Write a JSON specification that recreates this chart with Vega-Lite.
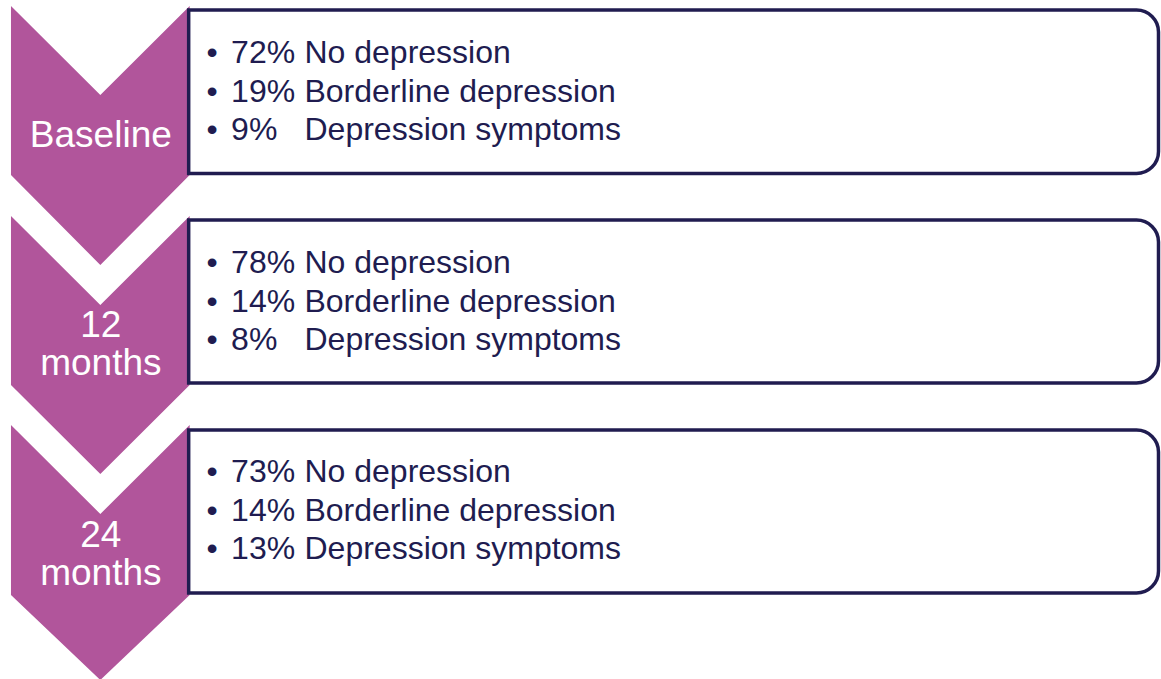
{
  "$schema": "https://vega.github.io/schema/vega-lite/v6.json",
  "width": 1161,
  "height": 679,
  "autosize": {"type": "fit", "contains": "padding"},
  "padding": 0,
  "background": "white",
  "config": {"view": {"stroke": null}},
  "datasets": {
    "chevrons": [
      {"stage": "Baseline", "x": 11, "y": 6, "y2": 175},
      {"stage": "Baseline", "x": 100.5, "y": 95, "y2": 265},
      {"stage": "Baseline", "x": 190, "y": 6, "y2": 175},
      {"stage": "12 months", "x": 11, "y": 216, "y2": 385},
      {"stage": "12 months", "x": 100.5, "y": 305, "y2": 474},
      {"stage": "12 months", "x": 190, "y": 216, "y2": 385},
      {"stage": "24 months", "x": 11, "y": 425, "y2": 595},
      {"stage": "24 months", "x": 100.5, "y": 514, "y2": 680},
      {"stage": "24 months", "x": 190, "y": 425, "y2": 595}
    ],
    "boxes": [
      {"stage": "Baseline", "x": 189, "x2": 1160.5, "y": 10, "y2": 173.5},
      {"stage": "12 months", "x": 189, "x2": 1160.5, "y": 220, "y2": 383},
      {"stage": "24 months", "x": 189, "x2": 1160.5, "y": 430, "y2": 593}
    ],
    "lines": [
      {"stage": "Baseline", "pct": "72%", "label": "No depression", "y": 63},
      {"stage": "Baseline", "pct": "19%", "label": "Borderline depression", "y": 102},
      {"stage": "Baseline", "pct": "9%", "label": "Depression symptoms", "y": 140},
      {"stage": "12 months", "pct": "78%", "label": "No depression", "y": 273},
      {"stage": "12 months", "pct": "14%", "label": "Borderline depression", "y": 312},
      {"stage": "12 months", "pct": "8%", "label": "Depression symptoms", "y": 350},
      {"stage": "24 months", "pct": "73%", "label": "No depression", "y": 482},
      {"stage": "24 months", "pct": "14%", "label": "Borderline depression", "y": 521},
      {"stage": "24 months", "pct": "13%", "label": "Depression symptoms", "y": 559}
    ],
    "stageLabels": [
      {"text": "Baseline", "y": 147},
      {"text": "12", "y": 337},
      {"text": "months", "y": 375},
      {"text": "24", "y": 547},
      {"text": "months", "y": 585}
    ]
  },
  "layer": [
    {
      "data": {"name": "chevrons"},
      "mark": {"type": "area", "orient": "vertical", "color": "#B1559B", "interpolate": "linear", "clip": true},
      "encoding": {
        "x": {"field": "x", "type": "quantitative", "scale": {"domain": [0, 1161], "nice": false, "zero": false}, "axis": null},
        "y": {"field": "y", "type": "quantitative", "scale": {"domain": [0, 679], "nice": false, "zero": false, "reverse": true}, "axis": null},
        "y2": {"field": "y2"},
        "detail": {"field": "stage", "type": "nominal"}
      }
    },
    {
      "data": {"name": "boxes"},
      "mark": {"type": "rect", "fill": "white", "stroke": "#201C50", "strokeWidth": 3.5, "cornerRadiusTopRight": 22, "cornerRadiusBottomRight": 22},
      "encoding": {
        "x": {"field": "x", "type": "quantitative", "axis": null},
        "x2": {"field": "x2"},
        "y": {"field": "y", "type": "quantitative", "axis": null},
        "y2": {"field": "y2"}
      }
    },
    {
      "data": {"name": "lines"},
      "mark": {"type": "text", "text": "•", "align": "center", "baseline": "alphabetic", "font": "Liberation Sans", "fontSize": 32, "color": "#201C50"},
      "encoding": {
        "x": {"datum": 212.5, "type": "quantitative", "axis": null},
        "y": {"field": "y", "type": "quantitative", "axis": null}
      }
    },
    {
      "data": {"name": "lines"},
      "mark": {"type": "text", "align": "left", "baseline": "alphabetic", "font": "Liberation Sans", "fontSize": 32, "color": "#201C50"},
      "encoding": {
        "x": {"datum": 231.5, "type": "quantitative", "axis": null},
        "y": {"field": "y", "type": "quantitative", "axis": null},
        "text": {"field": "pct"}
      }
    },
    {
      "data": {"name": "lines"},
      "mark": {"type": "text", "align": "left", "baseline": "alphabetic", "font": "Liberation Sans", "fontSize": 32, "color": "#201C50"},
      "encoding": {
        "x": {"datum": 305, "type": "quantitative", "axis": null},
        "y": {"field": "y", "type": "quantitative", "axis": null},
        "text": {"field": "label"}
      }
    },
    {
      "data": {"name": "stageLabels"},
      "mark": {"type": "text", "align": "center", "baseline": "alphabetic", "font": "Liberation Sans", "fontSize": 37, "color": "white"},
      "encoding": {
        "x": {"datum": 101, "type": "quantitative", "axis": null},
        "y": {"field": "y", "type": "quantitative", "axis": null},
        "text": {"field": "text"}
      }
    }
  ]
}
